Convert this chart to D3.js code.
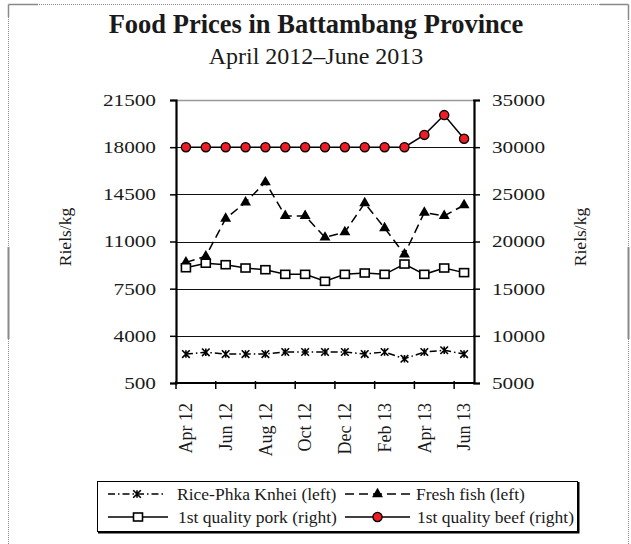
<!DOCTYPE html>
<html><head><meta charset="utf-8">
<script src="https://cdn.jsdelivr.net/npm/d3@7"></script>
<style>
body{margin:0;background:#fff}
svg{display:block}
text{font-family:"Liberation Serif","Times New Roman",serif;fill:#1a1a1a}
</style>
</head><body>
<svg id="c" width="631" height="544"></svg>
<script>
const months = ["Apr 12","May 12","Jun 12","Jul 12","Aug 12","Sep 12","Oct 12","Nov 12","Dec 12","Jan 13","Feb 13","Mar 13","Apr 13","May 13","Jun 13"];
const tickLabels = ["Apr 12","Jun 12","Aug 12","Oct 12","Dec 12","Feb 13","Apr 13","Jun 13"];
const rice = [2650,2780,2650,2650,2650,2800,2800,2800,2800,2650,2800,2300,2800,2930,2650];
const fish = [9450,9900,12700,13900,15400,12900,12900,11300,11700,13850,12000,10050,13150,12900,13700];
const pork = [17220,17700,17540,17190,17010,16520,16520,15780,16520,16660,16520,17610,16520,17190,16700];
const beef = [30000,30000,30000,30000,30000,30000,30000,30000,30000,30000,30000,30000,31300,33400,30900];
const leftTicks = [500,4000,7500,11000,14500,18000,21500];
const rightTicks = [5000,10000,15000,20000,25000,30000,35000];
const seriesNames = ["Rice-Phka Knhei (left)","Fresh fish (left)","1st quality pork (right)","1st quality beef (right)"];
const title = "Food Prices in Battambang Province";
const subtitle = "April 2012\u2013June 2013";
const axisTitle = "Riels/kg";

const svg = d3.select("#c");
const L = 176, R = 474, T = 100, B = 383;
const x = d3.scalePoint().domain(months).range([L, R]).padding(0.5);
const yL = d3.scaleLinear().domain([500, 21500]).range([B, T]);
const yR = d3.scaleLinear().domain([5000, 35000]).range([B, T]);
const step = x.step();

// outer frame
const frame = svg.append("g").attr("stroke", "#8a8a8a").attr("fill", "none");
frame.append("path").attr("d", "M8.5,560 V4.5 H628.5 V560").attr("stroke-dasharray", "1,1");
frame.append("path").attr("d", "M8.5,4.5 H38 M8.5,4.5 V17 M628.5,4.5 V20 M600,4.5 H628.5").attr("stroke-width", 1.5);
frame.append("path").attr("d", "M8.5,247 V339 M628.5,247 V339").attr("stroke-width", 2);

// titles
svg.append("text").attr("x", 316).attr("y", 33).attr("text-anchor", "middle")
  .attr("font-size", 26.5).attr("font-weight", "bold").text(title);
svg.append("text").attr("x", 316).attr("y", 64).attr("text-anchor", "middle")
  .attr("font-size", 24).text(subtitle);

// gridlines
svg.append("g").selectAll("line").data(leftTicks.filter(d => d !== 500)).join("line")
  .attr("x1", L).attr("x2", R).attr("y1", d => Math.round(yL(d)) + 0.5).attr("y2", d => Math.round(yL(d)) + 0.5)
  .attr("stroke", d => d === 21500 ? "#999" : "#111").attr("stroke-width", d => d === 21500 ? 1.5 : 1.2);

// axes
const stretch = 1.25;
const gL = svg.append("g").attr("transform", `translate(${L},0)`)
  .call(d3.axisLeft(yL).tickValues(leftTicks).tickSizeOuter(0).tickSize(6).tickFormat(d3.format("d")));
const gR = svg.append("g").attr("transform", `translate(${R},0)`)
  .call(d3.axisRight(yR).tickValues(rightTicks).tickSizeOuter(0).tickSize(6).tickFormat(d3.format("d")));
[gL, gR].forEach((g, i) => {
  g.select(".domain").attr("stroke", "#000").attr("stroke-width", 2.2);
  g.selectAll(".tick line").attr("stroke", "#000").attr("stroke-width", 1.5)
    .attr("x1", i === 0 ? 1 : -1);
  g.selectAll(".tick text").attr("font-size", 17).attr("font-family", "Liberation Serif")
    .attr("fill", "#1a1a1a")
    .attr("x", (i === 0 ? -20 : 18) / stretch)
    .attr("transform", `scale(${stretch},1)`);
});

// x axis
svg.append("line").attr("x1", L - 1).attr("x2", R + 1).attr("y1", B).attr("y2", B)
  .attr("stroke", "#000").attr("stroke-width", 2.2);
svg.append("g").selectAll("line").data(tickLabels).join("line")
  .attr("x1", d => x(d) - step / 2).attr("x2", d => x(d) - step / 2)
  .attr("y1", B - 2).attr("y2", B + 6).attr("stroke", "#000").attr("stroke-width", 1.5);
svg.append("g").selectAll("text").data(tickLabels).join("text")
  .attr("transform", d => `translate(${x(d)},403) rotate(-90)`)
  .attr("text-anchor", "end").attr("dy", "0.35em").attr("font-size", 18).text(d => d);

// axis titles
svg.append("text").attr("transform", "translate(65,237) rotate(-90)").attr("text-anchor", "middle")
  .attr("dy", "0.35em").attr("font-size", 17.5).text(axisTitle);
svg.append("text").attr("transform", "translate(580,237) rotate(-90)").attr("text-anchor", "middle")
  .attr("dy", "0.35em").attr("font-size", 17.5).text(axisTitle);

// marker drawers
const asterisk = s => `M${-s},${-s}L${s},${s}M${-s},${s}L${s},${-s}M0,${-s}L0,${s}`;
const triPath = d3.symbol(d3.symbolTriangle, 52)();
function marker(g, type) {
  if (type === 0) g.append("path").attr("d", asterisk(3.8)).attr("stroke", "#000").attr("stroke-width", 1.6).attr("fill", "none");
  else if (type === 1) g.append("path").attr("d", triPath).attr("fill", "#000");
  else if (type === 2) g.append("rect").attr("x", -4.5).attr("y", -4).attr("width", 9).attr("height", 8)
    .attr("fill", "#fff").attr("stroke", "#000").attr("stroke-width", 1.6);
  else g.append("circle").attr("r", 4.6).attr("fill", "#ee1c24").attr("stroke", "#000").attr("stroke-width", 1.3);
}

const series = [
  {vals: rice, y: yL, dash: "7,3,1.5,3", type: 0},
  {vals: fish, y: yL, dash: "9,5", type: 1},
  {vals: pork, y: yR, dash: null, type: 2},
  {vals: beef, y: yR, dash: null, type: 3}
];
const plot = svg.append("g");
series.forEach(s => {
  const line = d3.line().x((d, i) => x(months[i])).y(d => s.y(d));
  plot.append("path").datum(s.vals).attr("d", line).attr("fill", "none")
    .attr("stroke", "#000").attr("stroke-width", 1.5)
    .attr("stroke-dasharray", s.dash);
});
series.forEach(s => {
  s.vals.forEach((v, i) => {
    const g = plot.append("g").attr("transform", `translate(${x(months[i])},${s.y(v)})`);
    marker(g, s.type);
  });
});

// legend
const lg = svg.append("g");
lg.append("rect").attr("x", 97.5).attr("y", 481.5).attr("width", 480).attr("height", 50)
  .attr("fill", "#fff").attr("stroke", "#000").attr("stroke-width", 1);
lg.append("path").attr("d", "M578.5,482 V532.5 H98").attr("stroke", "#000").attr("stroke-width", 2).attr("fill", "none");
const legItems = [
  {x0: 108, x1: 166, y: 494, tx: 177, s: series[0], name: seriesNames[0]},
  {x0: 345, x1: 410, y: 494, tx: 416, s: series[1], name: seriesNames[1]},
  {x0: 108, x1: 168, y: 517, tx: 178, s: series[2], name: seriesNames[2]},
  {x0: 345, x1: 410, y: 517, tx: 417, s: series[3], name: seriesNames[3]}
];
legItems.forEach(it => {
  lg.append("line").attr("x1", it.x0).attr("x2", it.x1).attr("y1", it.y).attr("y2", it.y)
    .attr("stroke", "#000").attr("stroke-width", 1.5).attr("stroke-dasharray", it.s.dash);
  const g = lg.append("g").attr("transform", `translate(${(it.x0 + it.x1) / 2},${it.y})`);
  marker(g, it.s.type);
  lg.append("text").attr("x", it.tx).attr("y", it.y)
    .attr("dy", "0.35em").attr("font-size", 17.5).text(it.name);
});
</script>
</body></html>
